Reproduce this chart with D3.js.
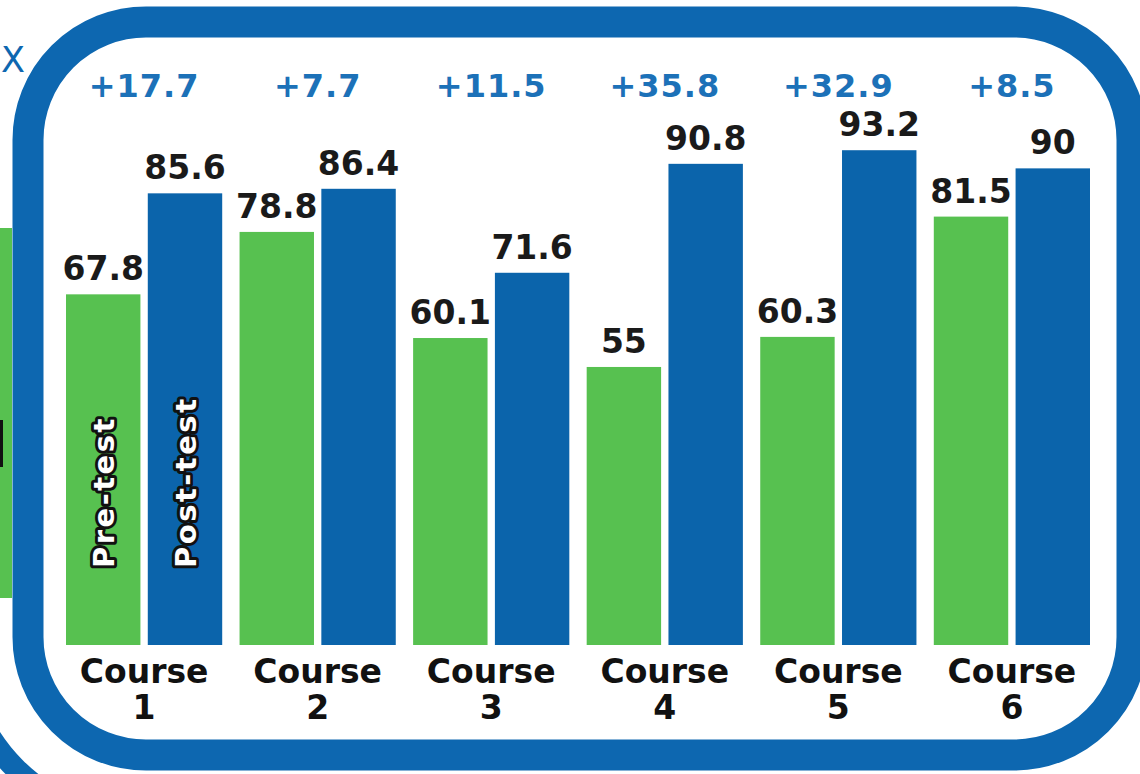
<!DOCTYPE html>
<html>
<head>
<meta charset="utf-8">
<script src="https://cdn.jsdelivr.net/npm/d3@7"></script>
<style>
  body { margin: 0; background: #fff; }
  svg { display: block; }
  text { font-family: "DejaVu Sans", sans-serif; font-weight: bold; }
</style>
</head>
<body>
<script>
// Data
var courses = ["Course 1", "Course 2", "Course 3", "Course 4", "Course 5", "Course 6"];
var courseNums = ["1", "2", "3", "4", "5", "6"];
var preTest = [67.8, 78.8, 60.1, 55, 60.3, 81.5];
var postTest = [85.6, 86.4, 71.6, 90.8, 93.2, 90];
var gains = ["+17.7", "+7.7", "+11.5", "+35.8", "+32.9", "+8.5"];
var seriesNames = ["Pre-test", "Post-test"];

var width = 1140, height = 774;
var green = "#57c150", blue = "#0b64ab", frameBlue = "#0d67b0", gainBlue = "#1c71b8";

var svg = d3.select("body").append("svg")
    .attr("width", width)
    .attr("height", height);

// bits of neighbouring panels cut off at the left edge
svg.append("rect")
    .attr("x", 0).attr("y", 228).attr("width", 12).attr("height", 370)
    .style("fill", green);
svg.append("rect")
    .attr("x", 0).attr("y", 420).attr("width", 3).attr("height", 47)
    .style("fill", "#111");
svg.append("text")
    .attr("x", 1).attr("y", 72)
    .style("font-size", "35px")
    .style("font-weight", "normal")
    .style("fill", frameBlue)
    .text("X");
svg.append("path")
    .attr("transform", "translate(143,640)")
    .attr("d", d3.arc()
      .innerRadius(170).outerRadius(192)
      .startAngle(200 * Math.PI / 180)
      .endAngle(250 * Math.PI / 180)())
    .style("fill", frameBlue);

// frame
svg.append("rect")
    .attr("x", 28).attr("y", 22)
    .attr("width", 1104).attr("height", 733)
    .attr("rx", 118).attr("ry", 118)
    .style("fill", "#fff")
    .style("stroke", frameBlue)
    .style("stroke-width", 31);

var data = courses.map(function(c, i) {
  return {course: c, num: courseNums[i], gain: gains[i],
          values: [{key: seriesNames[0], value: preTest[i]}, {key: seriesNames[1], value: postTest[i]}]};
});

// scales
var x0 = d3.scaleBand()
    .domain(courses)
    .range([66, 1090])
    .paddingInner(0.1)
    .paddingOuter(0);

var x1 = d3.scaleBand()
    .domain(seriesNames)
    .range([0, x0.bandwidth()])
    .paddingInner(0.09);

var y = d3.scaleLinear()
    .domain([6, 95])
    .range([645, 140]);

var color = d3.scaleOrdinal()
    .domain(seriesNames)
    .range([green, blue]);

var groups = svg.selectAll(".course").data(data).enter()
  .append("g")
    .attr("class", "course")
    .attr("transform", function(d) { return "translate(" + x0(d.course) + ",0)"; });

groups.selectAll("rect").data(function(d) { return d.values; }).enter()
  .append("rect")
    .attr("x", function(d) { return x1(d.key); })
    .attr("y", function(d) { return y(d.value); })
    .attr("width", x1.bandwidth())
    .attr("height", function(d) { return y(6) - y(d.value); })
    .style("fill", function(d) { return color(d.key); });

// value labels
groups.selectAll(".value").data(function(d) { return d.values; }).enter()
  .append("text")
    .attr("class", "value")
    .attr("x", function(d) { return x1(d.key) + x1.bandwidth() / 2; })
    .attr("y", function(d) { return y(d.value) - 14; })
    .attr("text-anchor", "middle")
    .style("font-size", "33px")
    .style("fill", "#1a1a1a")
    .text(function(d) { return d.value; });

// gain labels
groups.append("text")
    .attr("x", x0.bandwidth() / 2)
    .attr("y", 97)
    .attr("text-anchor", "middle")
    .style("font-size", "32px")
    .style("letter-spacing", "1px")
    .style("fill", gainBlue)
    .text(function(d) { return d.gain; });

// course labels, two lines
groups.append("text")
    .attr("x", x0.bandwidth() / 2)
    .attr("y", 683)
    .attr("text-anchor", "middle")
    .style("font-size", "33px")
    .style("fill", "#111")
    .text("Course");
groups.append("text")
    .attr("x", x0.bandwidth() / 2)
    .attr("y", 719)
    .attr("text-anchor", "middle")
    .style("font-size", "33px")
    .style("fill", "#111")
    .text(function(d) { return d.num; });

// series names written up the first pair of bars
svg.selectAll(".series").data(seriesNames).enter()
  .append("text")
    .attr("class", "series")
    .attr("transform", function(d) {
      return "translate(" + (x0(courses[0]) + x1(d) + x1.bandwidth() / 2 + 11) + ",568) rotate(-90)";
    })
    .style("font-size", "29px")
    .style("letter-spacing", "2.5px")
    .style("fill", "#fff")
    .style("stroke", "#111")
    .style("stroke-width", 6)
    .style("stroke-linejoin", "round")
    .style("paint-order", "stroke")
    .text(function(d) { return d; });
</script>
</body>
</html>
